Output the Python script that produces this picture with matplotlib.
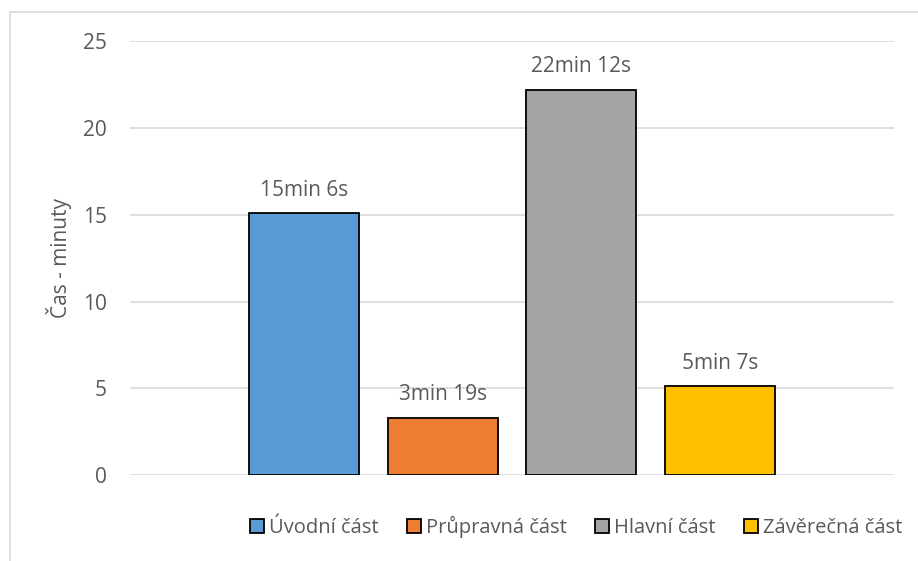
import matplotlib.pyplot as plt
from matplotlib.lines import Line2D

# Duration of each lesson part, in minutes
parts = ["Úvodní část", "Průpravná část", "Hlavní část", "Závěrečná část"]
minutes = [15 + 6 / 60, 3 + 19 / 60, 22 + 12 / 60, 5 + 7 / 60]
value_labels = ["15min 6s", "3min 19s", "22min 12s", "5min 7s"]
colors = ["#5B9BD5", "#ED7D31", "#A5A5A5", "#FFC000"]
yticks = [0, 5, 10, 15, 20, 25]

plt.rcParams["font.family"] = ["Open Sans", "DejaVu Sans"]
text_color = "#595959"

fig = plt.figure(figsize=(9.18, 5.61), dpi=100)
ax = fig.add_axes([0.1416, 0.1528, 0.974 - 0.1416, 0.9264 - 0.1528])

# outer chart frame (left and top edges visible)
fig.add_artist(Line2D([0.0105, 0.0105], [0, 0.979], transform=fig.transFigure,
                      color="#D9D9D9", lw=1.2))
fig.add_artist(Line2D([0.0105, 1.0], [0.979, 0.979], transform=fig.transFigure,
                      color="#D9D9D9", lw=1.2))

x = list(range(len(parts)))
for i in x:
    ax.bar(i, minutes[i], width=0.794, color=colors[i], edgecolor="black",
           linewidth=1.3, label=parts[i], zorder=3)
    ax.annotate(value_labels[i], (i, minutes[i]), xytext=(0, 9),
                textcoords="offset points", ha="center", va="bottom",
                fontsize=15, color=text_color)

ax.set_xlim(-1.258, 4.258)
ax.set_ylim(0, 25)
ax.set_yticks(yticks)
ax.set_xticks([])
ax.yaxis.grid(True, color="#D9D9D9", linewidth=1.2, zorder=0)
for s in ax.spines.values():
    s.set_visible(False)
ax.tick_params(axis="y", length=0, pad=16.5, labelsize=15, labelcolor=text_color)
ax.set_ylabel("Čas - minuty", fontsize=15, color=text_color, labelpad=8)

handles = [plt.Rectangle((0, 0), 1, 1, facecolor=c, edgecolor="black", linewidth=1.3)
           for c in colors]
ax.legend(handles, parts, loc="center", bbox_to_anchor=(0.584, -0.12),
          ncol=4, frameon=False, fontsize=14.5, labelcolor=text_color,
          handlelength=0.7, handleheight=0.7, handletextpad=0.25,
          columnspacing=1.4, borderpad=0, borderaxespad=0)

fig.savefig("out.png", dpi=100)
